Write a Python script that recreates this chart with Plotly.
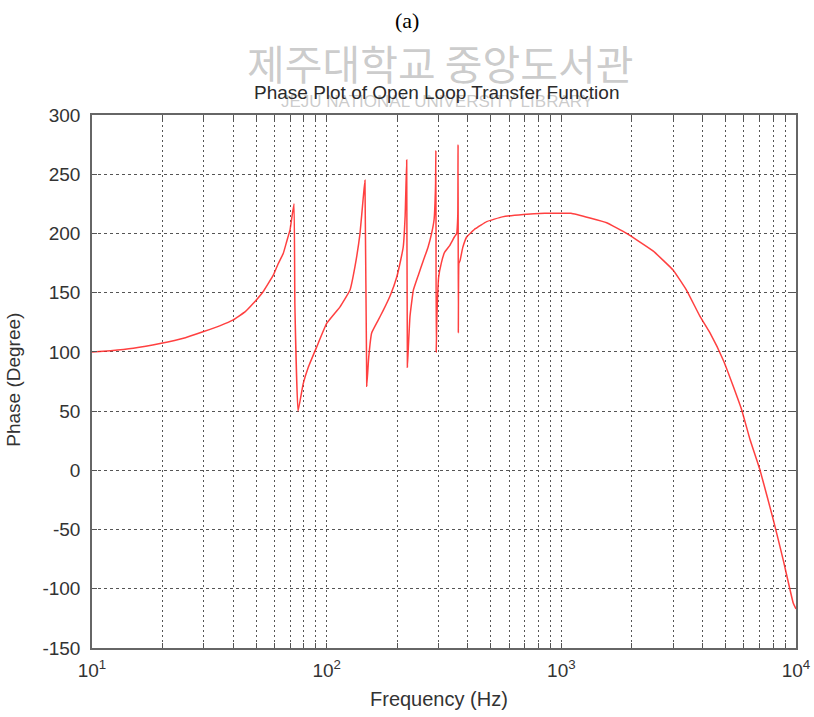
import plotly.graph_objects as go

# ---- data ----
freq_hz = [10, 12, 15, 19.5, 25, 29.7, 35, 40, 45, 48.7, 53.7, 59.3, 62, 65.3, 67.5, 69.8, 71, 72.6,
           73.2, 75.5, 79.4, 83.5, 90.6, 100, 114, 125.6, 132, 138.7, 143.3, 145.6,
           148.2, 151, 155.5, 165, 174.2, 187, 198.8, 207, 212.1, 216, 219.3,
           220.8, 223, 226.5, 234, 246, 258, 270, 280, 287, 291, 292,
           293, 295, 300, 308, 318, 335, 350, 358, 362, 363,
           364, 366, 370, 380, 395, 430, 481, 560, 689, 850, 987, 1100, 1324, 1560, 1897,
           2466, 2999, 3419, 3898, 4300, 4900, 5402, 5870, 6368, 7030, 8010, 8830, 9730, 10000]
phase_deg = [100, 101, 103, 107, 112, 117, 122, 127, 134, 141, 151, 165, 174, 183, 193, 203, 213, 225,
             140, 50, 73, 87, 104, 124, 138, 152, 172, 200, 231, 245,
             71, 95, 116, 126, 135, 148, 163, 178, 189, 215, 262,
             87, 105, 130, 152, 165, 177, 188, 200, 212, 240, 270,
             100, 130, 163, 175, 184, 190, 197, 200, 215, 275,
             116, 175, 177, 188, 197, 204, 210, 214, 216, 217, 217, 217, 213, 209, 200,
             185, 169, 152, 130, 116, 93, 71, 51, 26, 0, -42, -76, -112, -117]

y_ticks = [-150, -100, -50, 0, 50, 100, 150, 200, 250, 300]
y_labels = [str(v) for v in y_ticks]
decades = [10, 100, 1000, 10000]
decade_labels = ["10<sup>1</sup>", "10<sup>2</sup>", "10<sup>3</sup>", "10<sup>4</sup>"]

# all log grid positions (majors + minors)
x_grid = []
x_text = []
for i, d in enumerate(decades[:-1]):
    for m in range(1, 10):
        x_grid.append(d * m)
        x_text.append(decade_labels[i] if m == 1 else "")
x_grid.append(decades[-1])
x_text.append(decade_labels[-1])

fig = go.Figure()
fig.add_trace(go.Scatter(x=freq_hz, y=phase_deg, mode="lines",
                         line=dict(color="rgba(255,30,30,0.85)", width=1.5, shape="spline",
                                   smoothing=0.3),
                         showlegend=False, hoverinfo="skip"))

sans = "Liberation Sans, Arial, sans-serif"
tick_font = dict(family=sans, size=19, color="#333333")
fig.update_layout(
    width=814, height=717,
    margin=dict(l=92, r=18, t=115, b=69),
    paper_bgcolor="white", plot_bgcolor="white",
    xaxis=dict(type="log", range=[1, 4], tickvals=x_grid, ticktext=x_text,
               showgrid=True, gridcolor="#555555", griddash="2px,3px", gridwidth=1,
               ticks="inside", ticklen=5, tickcolor="#555555", mirror="ticks",
               showline=True, linecolor="#666666", linewidth=1.5,
               tickfont=tick_font, ticklabelstandoff=4, automargin=False,
               zeroline=False),
    yaxis=dict(range=[-150, 300], tickvals=y_ticks, ticktext=y_labels,
               showgrid=True, gridcolor="#555555", griddash="3px,3px", gridwidth=1,
               ticks="inside", ticklen=5, tickcolor="#555555", mirror="ticks",
               showline=True, linecolor="#666666", linewidth=1.5,
               tickfont=tick_font, ticklabelstandoff=6, automargin=False,
               zeroline=False),
)

wm_color = "rgba(160,160,160,0.55)"
annotations = [
    dict(text="(a)", x=0.447, y=1.178, xref="paper", yref="paper", showarrow=False,
         xanchor="center", yanchor="middle",
         font=dict(family="Liberation Serif, Times New Roman, serif", size=22, color="black")),
    dict(text="제주대학교 중앙도서관", x=0.494, y=1.099, xref="paper", yref="paper", showarrow=False,
         xanchor="center", yanchor="middle",
         font=dict(family="Noto Sans CJK KR", size=41, color=wm_color)),
    dict(text="JEJU NATIONAL UNIVERSITY LIBRARY", x=0.49, y=1.026, xref="paper", yref="paper",
         showarrow=False, xanchor="center", yanchor="middle",
         font=dict(family=sans, size=17, color=wm_color)),
    dict(text="Phase Plot of Open Loop Transfer Function", x=0.490, y=1.043, xref="paper", yref="paper",
         showarrow=False, xanchor="center", yanchor="middle",
         font=dict(family=sans, size=19, color="#2a2a2a")),
    dict(text="Frequency (Hz)", x=0.493, y=-0.096, xref="paper", yref="paper", showarrow=False,
         xanchor="center", yanchor="middle", font=dict(family=sans, size=20, color="#333333")),
    dict(text="Phase (Degree)", x=-0.111, y=0.503, xref="paper", yref="paper", showarrow=False,
         xanchor="center", yanchor="middle", textangle=-90,
         font=dict(family=sans, size=19, color="#333333")),
]
fig.update_layout(annotations=annotations)

fig.write_html("out.html")
